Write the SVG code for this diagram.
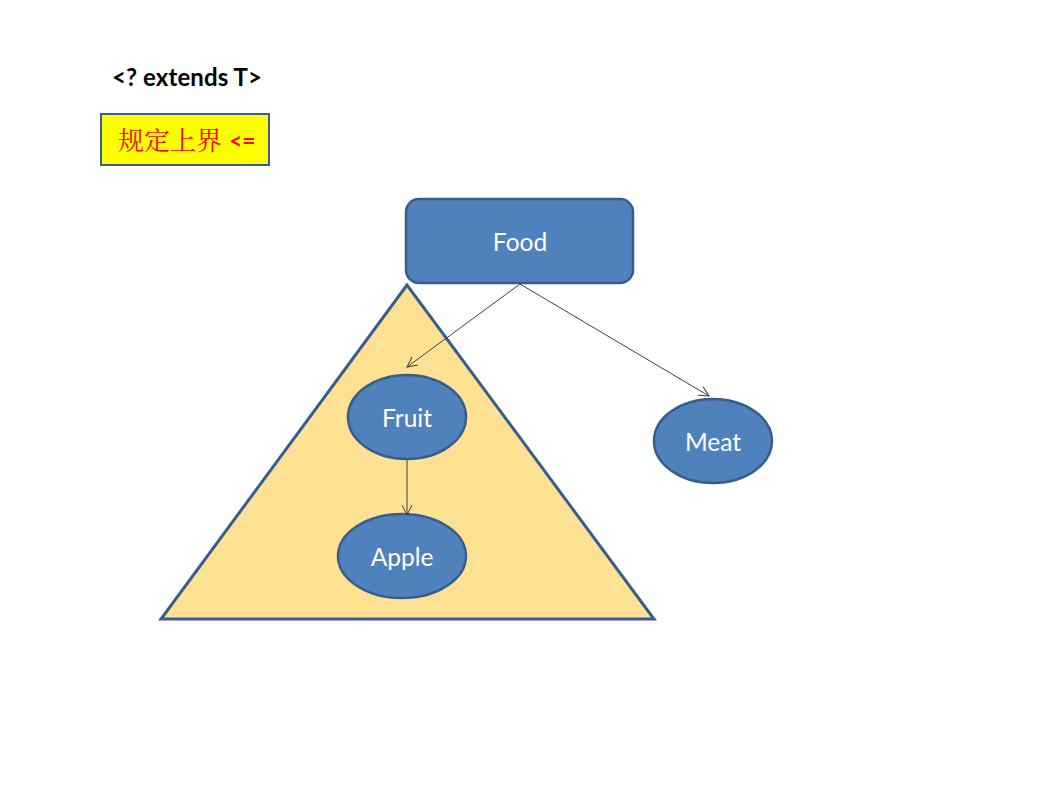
<svg xmlns="http://www.w3.org/2000/svg" width="1056" height="789" viewBox="0 0 1056 789">
<defs>
<style>
.node{fill:#4F81BD;stroke:#385D8A;stroke-width:2.5}
.lbl{font-family:Lato,"Open Sans",sans-serif;font-size:24.5px;fill:#fff;text-anchor:middle;dominant-baseline:central}
.conn{stroke:#404040;stroke-width:1;fill:none;marker-end:url(#arr)}
</style>
<marker id="arr" viewBox="0 0 12 12" refX="11" refY="6" markerWidth="12" markerHeight="12" markerUnits="userSpaceOnUse" orient="auto">
<path d="M1,1 L11,6 L1,11" fill="none" stroke="#404040" stroke-width="1"/>
</marker>
</defs>
<rect width="1056" height="789" fill="#fff"/>
<text x="112" y="86" font-family="Lato,'Open Sans',sans-serif" font-size="24" font-weight="bold" fill="#000" textLength="150">&lt;? extends T&gt;</text>
<g id="upper-bound">
<rect x="101" y="114" width="168" height="51" fill="#FFFF00" stroke="#3E5F8A" stroke-width="2"/>
<text x="118" y="150" font-size="26" fill="#FF0000"><tspan font-family="'Noto Serif CJK SC','Noto Sans CJK SC',serif">规定上界</tspan><tspan font-family="Lato,'Open Sans',sans-serif" font-weight="bold" font-size="23" dx="7" dy="-1">&lt;=</tspan></text>
</g>
<g id="triangle">
<polygon points="407,285 161,619 654,619" fill="#FFE193" stroke="#385D8A" stroke-width="3" stroke-linejoin="miter"/>
</g>
<g id="food">
<rect class="node" x="406" y="199" width="227" height="84" rx="13"/>
<text class="lbl" x="520" y="241">Food</text>
</g>
<g id="fruit">
<ellipse class="node" cx="407" cy="417" rx="59" ry="42"/>
<text class="lbl" x="407" y="417">Fruit</text>
</g>
<g id="meat">
<ellipse class="node" cx="713" cy="441" rx="59" ry="42"/>
<text class="lbl" x="713" y="441">Meat</text>
</g>
<g id="apple">
<ellipse class="node" cx="402" cy="556" rx="64" ry="42"/>
<text class="lbl" x="402" y="556">Apple</text>
</g>
<g id="connectors">
<line class="conn" x1="520" y1="284" x2="407" y2="367"/>
<line class="conn" x1="520" y1="284" x2="709" y2="396"/>
<line class="conn" x1="407" y1="460" x2="407" y2="515"/>
</g>
</svg>
